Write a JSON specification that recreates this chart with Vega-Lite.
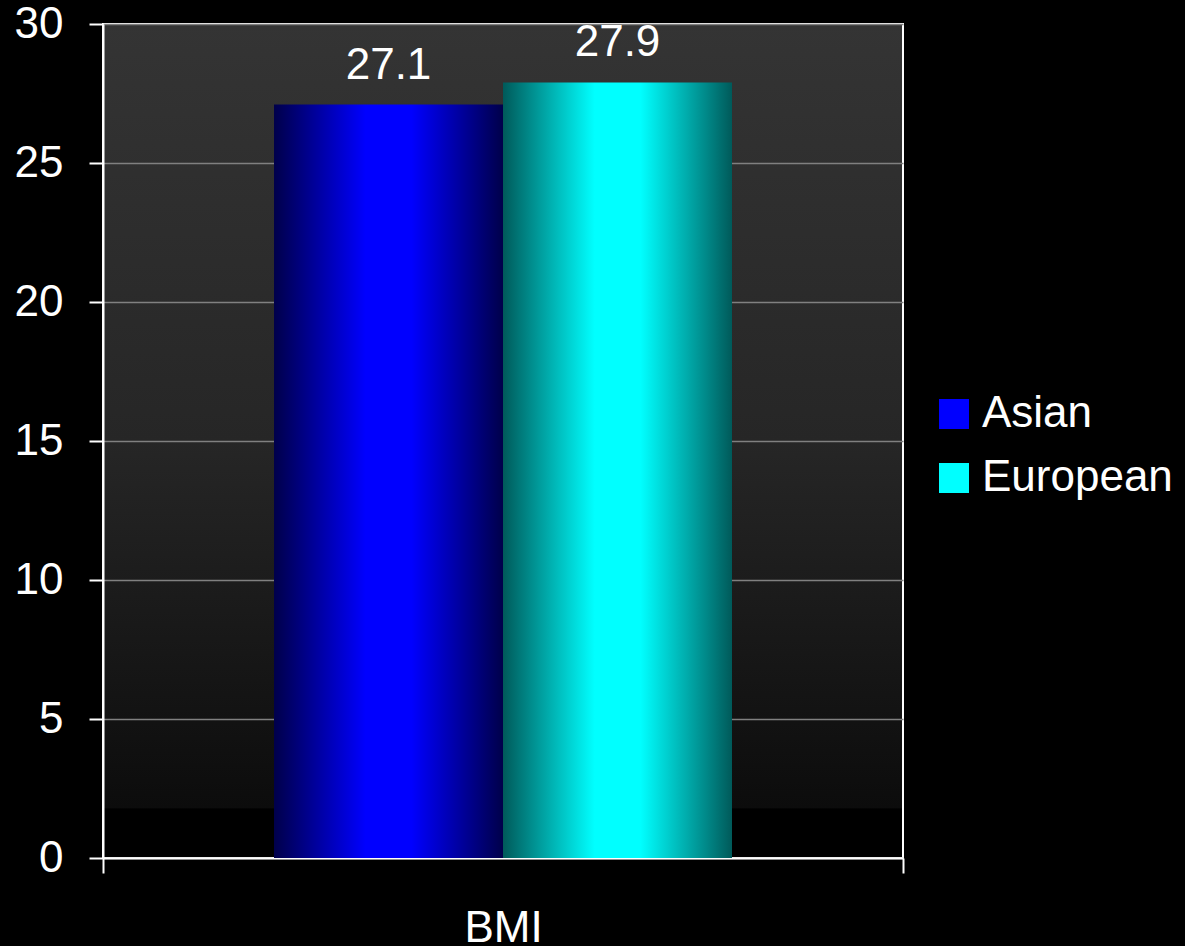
{
  "$schema": "https://vega.github.io/schema/vega-lite/v6.json",
  "width": 800,
  "height": 834,
  "autosize": {"type": "none"},
  "padding": {"left": 103, "top": 24, "right": 282, "bottom": 88},
  "background": "#000000",
  "view": {
    "fill": {"gradient": "linear", "x1": 0, "y1": 0, "x2": 0, "y2": 1,
      "stops": [
        {"offset": 0, "color": "#343434"},
        {"offset": 0.5, "color": "#262626"},
        {"offset": 0.94, "color": "#0c0c0c"},
        {"offset": 0.941, "color": "#000000"},
        {"offset": 1, "color": "#000000"}
      ]},
    "stroke": "#ffffff",
    "strokeWidth": 2
  },
  "config": {
    "font": "Liberation Sans",
    "axis": {"labelFont": "Liberation Sans", "titleFont": "Liberation Sans"},
    "legend": {"labelFont": "Liberation Sans"}
  },
  "data": {
    "values": [
      {"metric": "BMI", "group": "Asian", "value": 27.1},
      {"metric": "BMI", "group": "European", "value": 27.9}
    ]
  },
  "encoding": {
    "x": {
      "field": "metric", "type": "nominal",
      "scale": {"paddingInner": 0, "paddingOuter": 0},
      "axis": {
        "title": null, "labelAngle": 0, "labelFontSize": 44, "labelColor": "#ffffff",
        "labelPadding": 33, "tickSize": 15, "tickColor": "#ffffff", "tickWidth": 2,
        "tickBand": "extent", "domainColor": "#ffffff", "domainWidth": 2, "grid": false
      }
    },
    "xOffset": {
      "field": "group", "type": "nominal",
      "scale": {"paddingInner": 0, "paddingOuter": 0.7467}
    },
    "y": {
      "field": "value", "type": "quantitative",
      "scale": {"domain": [0, 30], "nice": false},
      "axis": {
        "title": null, "values": [0, 5, 10, 15, 20, 25, 30],
        "labelFontSize": 44, "labelColor": "#ffffff", "labelPadding": 26,
        "tickSize": 14, "tickColor": "#ffffff", "tickWidth": 2,
        "domainColor": "#ffffff", "domainWidth": 2,
        "grid": true, "gridColor": "#808080", "gridWidth": 1.5
      }
    }
  },
  "layer": [
    {
      "mark": {"type": "bar"},
      "encoding": {
        "fill": {
          "condition": {
            "test": "datum.group === 'Asian'",
            "value": {"gradient": "linear", "x1": 0, "y1": 0, "x2": 1, "y2": 0,
              "stops": [
                {"offset": 0, "color": "#00004a"},
                {"offset": 0.4, "color": "#0000ff"},
                {"offset": 0.6, "color": "#0000ff"},
                {"offset": 1, "color": "#00004a"}
              ]}
          },
          "value": {"gradient": "linear", "x1": 0, "y1": 0, "x2": 1, "y2": 0,
            "stops": [
              {"offset": 0, "color": "#005a5a"},
              {"offset": 0.4, "color": "#00ffff"},
              {"offset": 0.6, "color": "#00ffff"},
              {"offset": 1, "color": "#005a5a"}
            ]}
        }
      }
    },
    {
      "mark": {"type": "text", "baseline": "alphabetic", "dy": -26, "fontSize": 44, "color": "#ffffff"},
      "encoding": {
        "text": {"field": "value", "type": "quantitative", "format": ".1f"}
      }
    },
    {
      "mark": {"type": "bar", "opacity": 0},
      "encoding": {
        "fill": {
          "field": "group", "type": "nominal",
          "scale": {"domain": ["Asian", "European"], "range": ["#0000ff", "#00ffff"]},
          "legend": {
            "title": null, "orient": "none", "legendX": 829, "legendY": 368,
            "padding": 0, "symbolType": "square", "symbolSize": 900,
            "symbolStrokeWidth": 0, "symbolOpacity": 1, "labelFontSize": 44, "labelColor": "#ffffff",
            "labelOffset": 6, "rowPadding": 20, "labelLimit": 0,
            "encode": {
              "symbols": {
                "update": {
                  "fill": {
                    "condition": {
                      "test": "datum.value === 'Asian'",
                      "value": {"gradient": "linear", "x1": 0, "y1": 0, "x2": 1, "y2": 0,
                        "stops": [
                          {"offset": 0, "color": "#00004a"},
                          {"offset": 0.5, "color": "#0000ff"},
                          {"offset": 1, "color": "#00004a"}
                        ]}
                    },
                    "value": {"gradient": "linear", "x1": 0, "y1": 0, "x2": 1, "y2": 0,
                      "stops": [
                        {"offset": 0, "color": "#005a5a"},
                        {"offset": 0.5, "color": "#00ffff"},
                        {"offset": 1, "color": "#005a5a"}
                      ]}
                  },
                  "opacity": {"value": 1}
                }
              }
            }
          }
        }
      }
    }
  ]
}
